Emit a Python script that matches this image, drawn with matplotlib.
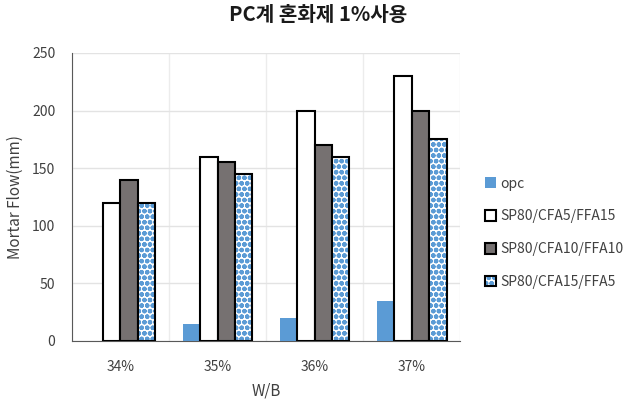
import numpy as np
import matplotlib
matplotlib.use("Agg")
from matplotlib import pyplot as plt
from matplotlib.patches import Patch

plt.rcParams['font.family'] = ['Noto Sans CJK KR', 'DejaVu Sans']
plt.rcParams['hatch.linewidth'] = 1.6

categories = ['34%', '35%', '36%', '37%']
opc = [0, 15, 20, 35]
mix_5_15 = [120, 160, 200, 230]
mix_10_10 = [140, 155, 170, 200]
mix_15_5 = [120, 145, 160, 175]
series_names = ['opc', 'SP80/CFA5/FFA15', 'SP80/CFA10/FFA10', 'SP80/CFA15/FFA5']

fig = plt.figure(figsize=(6.27, 3.99), dpi=100)
ax = fig.add_axes([0.1148, 0.1454, 0.6190, 0.7218])

x = np.arange(len(categories))
w = 0.18
blue = '#5b9bd5'

ax.bar(x - 1.5 * w, opc, w, color=blue, edgecolor='none', zorder=3)
ax.bar(x - 0.5 * w, mix_5_15, w, color='white', edgecolor='black', linewidth=1.5, zorder=3)
ax.bar(x + 0.5 * w, mix_10_10, w, color='#767171', edgecolor='black', linewidth=1.5, zorder=3)
# patterned bars: blue hatch first, black outline on top
ax.bar(x + 1.5 * w, mix_15_5, w, color='white', edgecolor=blue, hatch='ooo', linewidth=0, zorder=3)
ax.bar(x + 1.5 * w, mix_15_5, w, color='none', edgecolor='black', linewidth=1.5, zorder=4)

ax.set_xlim(-0.5, len(categories) - 0.5)
ax.set_ylim(0, 250)
ax.set_yticks(range(0, 251, 50))
ax.set_xticks(x)
ax.set_xticklabels(categories)
ax.set_xticks(np.arange(-0.5, len(categories), 1), minor=True)
ax.tick_params(which='both', length=0)
ax.tick_params(axis='x', pad=14, labelsize=10, colors='#404040')
ax.tick_params(axis='y', pad=12, labelsize=10, colors='#404040')
ax.grid(axis='y', color='#e3e3e3', linewidth=1, zorder=0)
ax.grid(axis='x', which='minor', color='#ececec', linewidth=1, zorder=0)

for side in ['top', 'right']:
    ax.spines[side].set_visible(False)
ax.spines['left'].set_color('#595959')
ax.spines['bottom'].set_color('#595959')

ax.set_ylabel('Mortar Flow(mm)', fontsize=11, color='#404040', labelpad=6)
ax.set_xlabel('W/B', fontsize=11, color='#404040', labelpad=6)
fig.suptitle('PC계 혼화제 1%사용', x=0.507, y=0.99, fontsize=14.5, fontweight='bold', color='#1a1a1a')

handles = [
    Patch(facecolor=blue, edgecolor='none'),
    Patch(facecolor='white', edgecolor='black', linewidth=1.5),
    Patch(facecolor='#767171', edgecolor='black', linewidth=1.5),
    (Patch(facecolor='white', edgecolor=blue, hatch='ooo', linewidth=0),
     Patch(facecolor='none', edgecolor='black', linewidth=1.5)),
]
leg = fig.legend(handles, series_names, loc='upper left', bbox_to_anchor=(0.762, 0.575),
                 frameon=False, fontsize=10, handlelength=0.8, handleheight=0.8,
                 handletextpad=0.3, labelspacing=1.35, borderpad=0)
for t in leg.get_texts():
    t.set_color('#404040')

fig.savefig('out.png', dpi=100)
